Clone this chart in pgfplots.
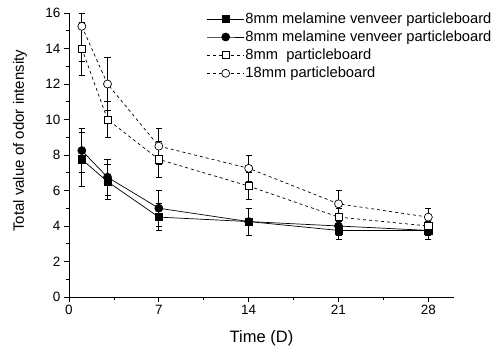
\documentclass[border=0pt]{standalone}
\usepackage{fontspec}
\setmainfont{Liberation Sans}
\usepackage{pgfplots}
\usepackage{pgfplotstable}
\pgfplotsset{compat=1.18}

\pgfplotstableread{
x y ep em
1 7.75 1.5 1.5
3 6.5 1.0 1.0
7 4.5 0.75 0.75
14 4.25 0.75 0.75
21 3.75 0.5 0.5
28 3.75 0.5 0.5
}\sa
\pgfplotstableread{
x y ep em
1 8.25 1.25 1.25
3 6.75 1.0 1.0
7 5.0 1.0 1.0
14 4.25 0.75 0.75
21 4.0 0.5 0.5
28 3.75 0.5 0.5
}\sb
\pgfplotstableread{
x y ep em
1 14.0 1.5 1.5
3 10.0 1.0 1.0
7 7.75 1.0 1.0
14 6.25 0.75 0.75
21 4.5 0.5 0.5
28 4.0 0.5 0.5
}\sc
\pgfplotstableread{
x y ep em
1 15.25 0.75 2.0
3 12.0 1.5 1.5
7 8.5 1.0 1.0
14 7.25 0.75 0.75
21 5.25 0.75 0.75
28 4.5 0.5 0.5
}\sd

\begin{document}
\begin{tikzpicture}
\begin{axis}[
  at={(69bp,56bp)}, anchor=south west,
  scale only axis,
  width=385bp, height=284bp,
  xmin=0, xmax=30, ymin=0, ymax=16,
  xtick={0,7,14,21,28},
  ytick={0,2,...,16},
  minor x tick num=1, minor y tick num=1,
  axis lines*=left,
  axis line style={line width=0.9bp},
  tick align=outside,
  major tick length=5bp, minor tick length=3bp,
  tick style={line width=0.8bp, black},
  clip=false,
  /pgf/number format/assume math mode=true,
  ticklabel style={font=\fontsize{13.5bp}{15bp}\selectfont},
  xlabel={Time (D)},
  ylabel={Total value of odor intensity},
  xlabel style={font=\fontsize{16.5bp}{18bp}\selectfont, at={(axis description cs:0.5,-0.144)}, anchor=center},
  ylabel style={font=\fontsize{15bp}{18bp}\selectfont, at={(axis description cs:-0.127,0.55)}, anchor=center},
  legend style={at={(axis description cs:0.35,1.012)}, anchor=north west,
    draw=none, fill=none, font=\fontsize{14.7bp}{17bp}\selectfont,
    nodes={inner sep=1bp}, row sep=4bp},
  legend cell align=left,
  legend image code/.code={\draw[mark repeat=2,mark phase=2] plot coordinates {(0cm,0cm) (0.65cm,0cm) (1.3cm,0cm)};},
  every axis plot/.append style={black, line width=0.7bp},
  error bars/y dir=both, error bars/y explicit,
  error bars/error mark options={black, solid, line width=0.7bp, mark size=3bp, rotate=90},
  error bars/error bar style={black, solid, line width=0.7bp},
]
\addplot[solid, mark=square*, mark size=3.6bp, mark options={solid, fill=black}]
  table[x=x, y=y, y error plus=ep, y error minus=em] {\sa};
\addlegendentry{8mm melamine venveer particleboard}
\addplot[solid, mark=*, mark size=4bp, mark options={solid, fill=black}]
  table[x=x, y=y, y error plus=ep, y error minus=em] {\sb};
\addlegendentry{8mm melamine venveer particleboard}
\addplot[dash pattern=on 3bp off 3bp, mark=square*, mark size=3.6bp, mark options={solid, fill=white}]
  table[x=x, y=y, y error plus=ep, y error minus=em] {\sc};
\addlegendentry{8mm\ \ particleboard}
\addplot[dash pattern=on 3bp off 3bp, mark=*, mark size=4bp, mark options={solid, fill=white}]
  table[x=x, y=y, y error plus=ep, y error minus=em] {\sd};
\addlegendentry{18mm particleboard}
\end{axis}
\pgfresetboundingbox
\useasboundingbox (0,0) rectangle (500bp,353bp);
\end{tikzpicture}
\end{document}
